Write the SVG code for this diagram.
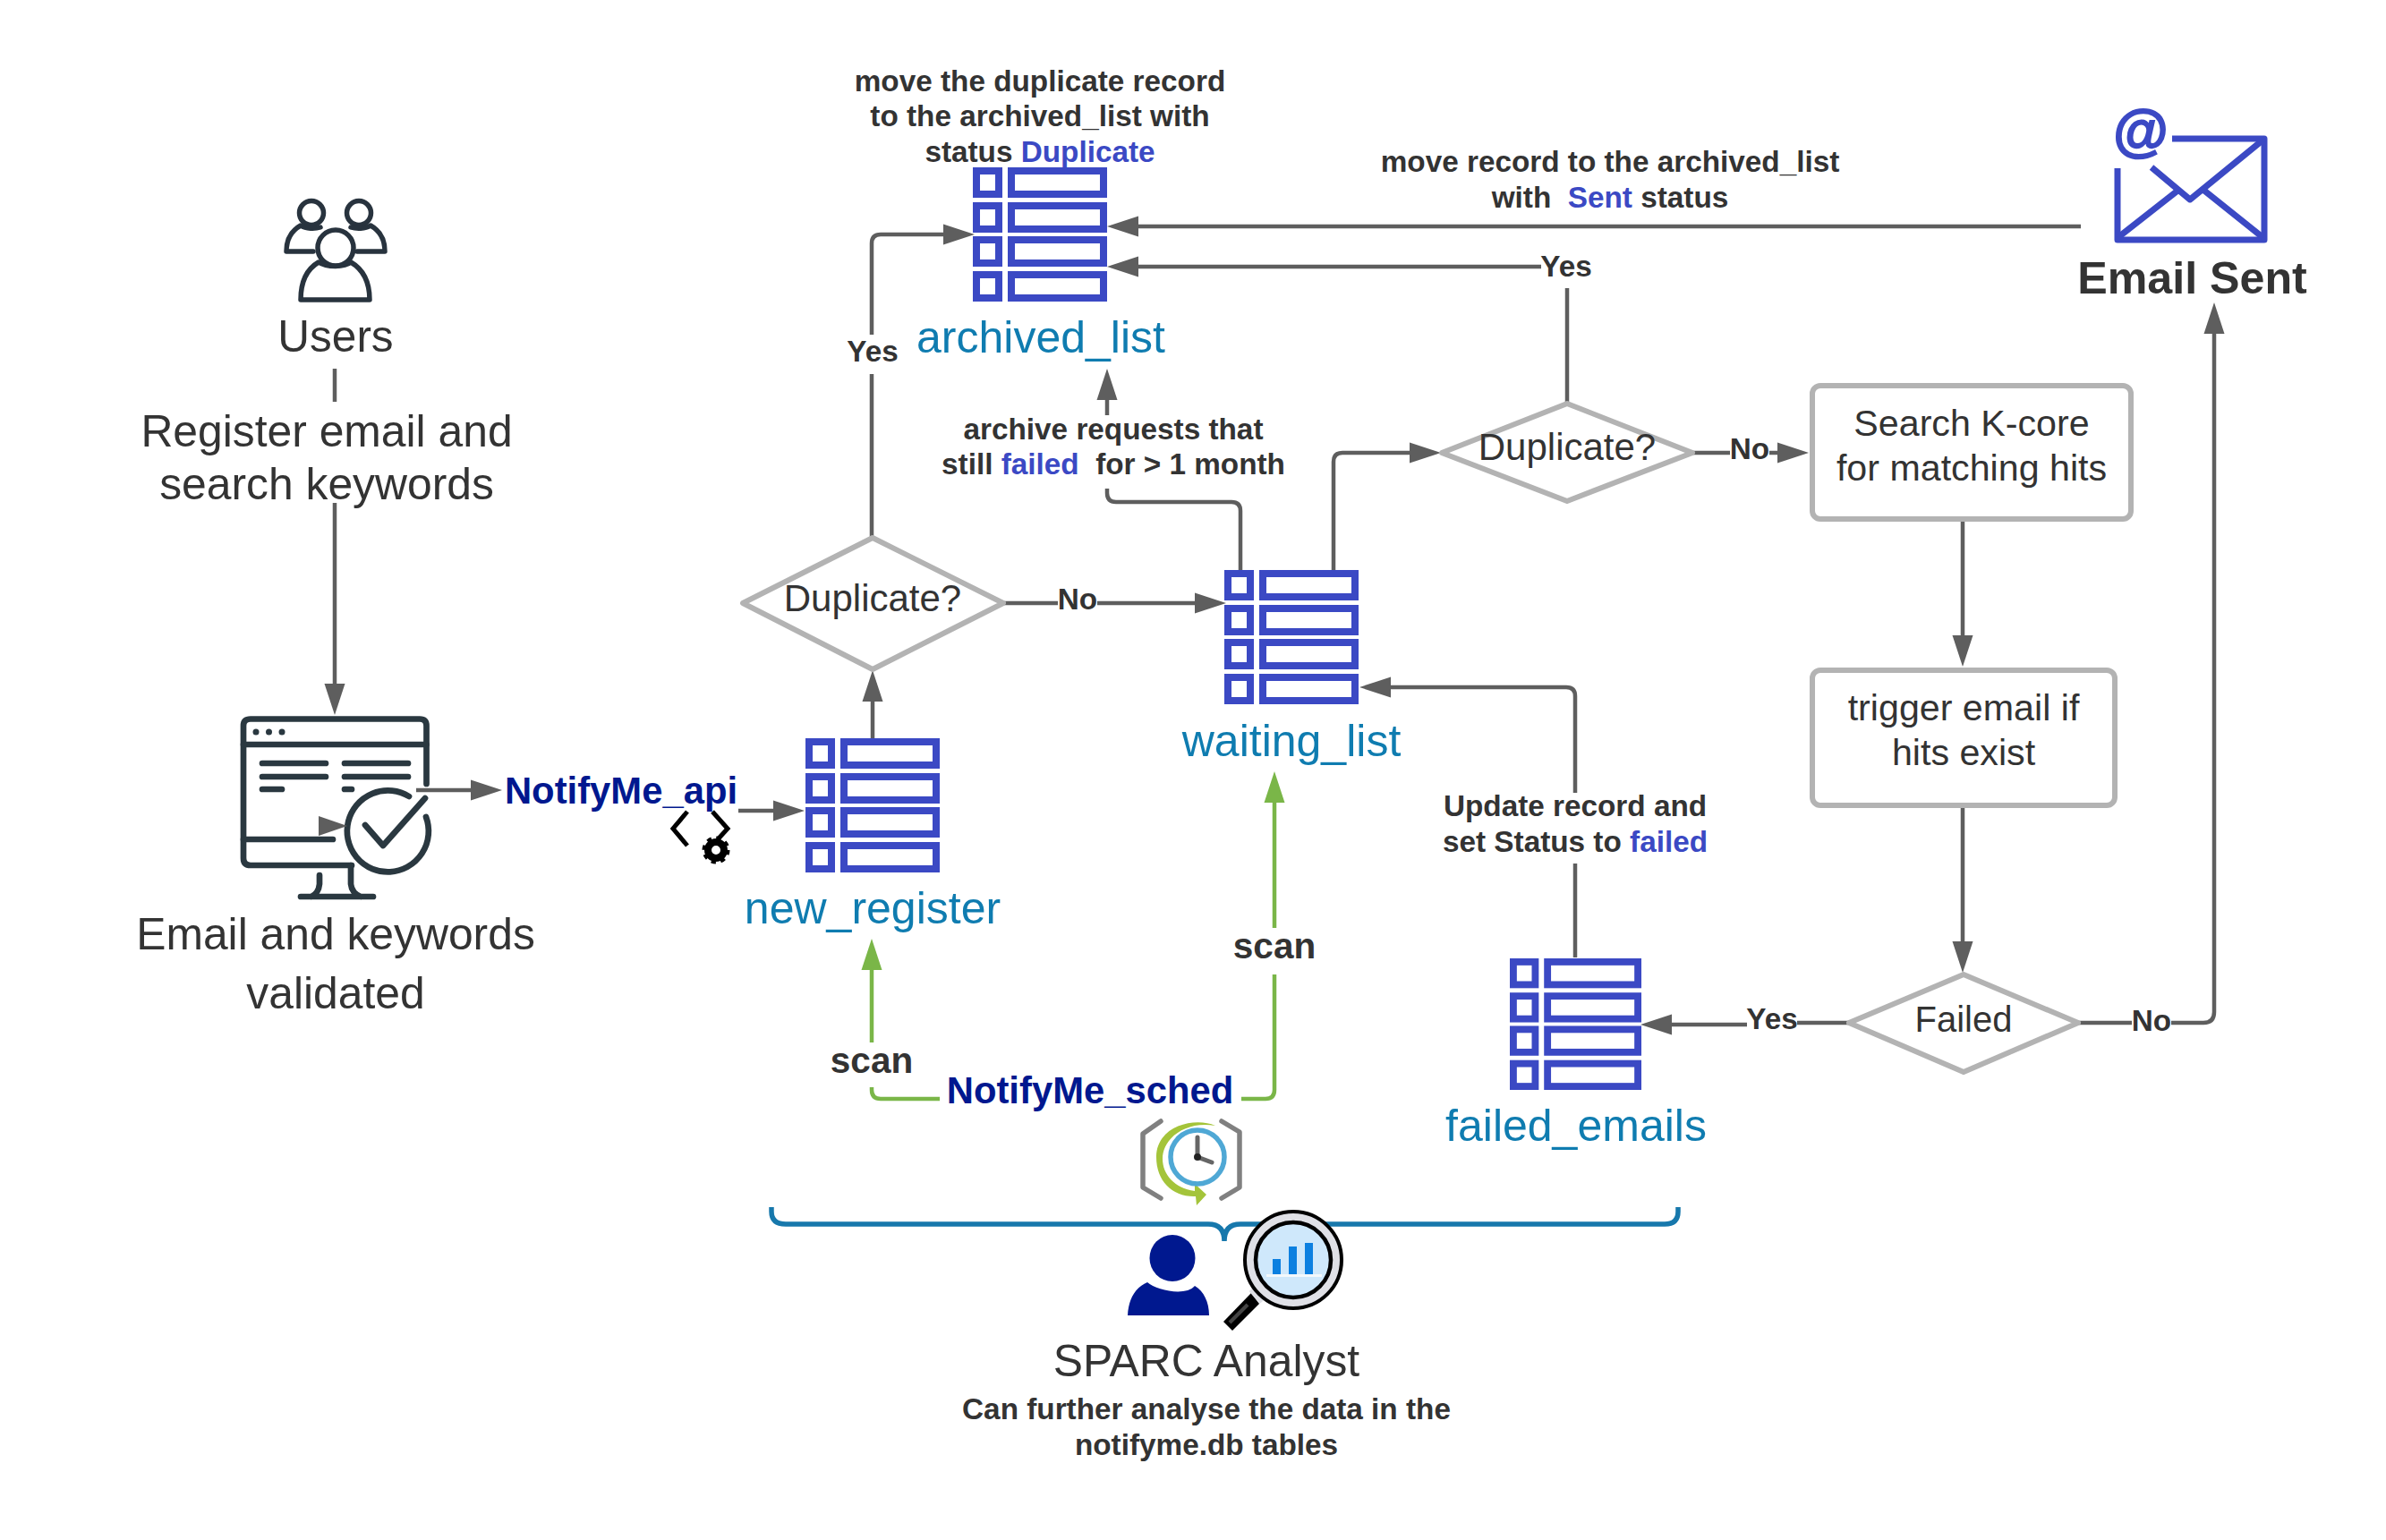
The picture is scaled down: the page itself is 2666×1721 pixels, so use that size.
<svg xmlns="http://www.w3.org/2000/svg" width="2666" height="1721" viewBox="0 0 2666 1721">
<style>
text{font-family:"Liberation Sans",Arial,sans-serif;fill:#333;white-space:pre}
.m{text-anchor:middle}
.l49{font-size:49.8px}
.t{font-size:50px;fill:#0f7cb0;text-anchor:middle}
.b{font-size:33.3px;font-weight:bold;text-anchor:middle}
.n{font-size:41.8px;font-weight:bold;fill:#00188f;text-anchor:middle}
.s{font-size:40.5px;font-weight:bold;text-anchor:middle}
.d{font-size:42px;text-anchor:middle}
.u{fill:#3b49c4}
.c{fill:none;stroke:#5e5e5e;stroke-width:4.5;marker-end:url(#ah)}
.p{fill:none;stroke:#5e5e5e;stroke-width:4.5}
.g{fill:none;stroke:#7ab648;stroke-width:4.5;marker-end:url(#ag)}
.gp{fill:none;stroke:#7ab648;stroke-width:4.5}
.box{fill:#fff;stroke:#b3b3b3;stroke-width:6;stroke-linejoin:round}
.tb{fill:none;stroke:#3b49c4;stroke-width:8}
.ic{fill:none;stroke:#28333e;stroke-width:5.5;stroke-linecap:round;stroke-linejoin:round}
.mo{fill:none;stroke:#2a3840;stroke-width:6.7;stroke-linecap:round;stroke-linejoin:round}
</style>
<defs>
<marker id="ah" markerUnits="userSpaceOnUse" markerWidth="36" markerHeight="24" refX="1" refY="12" orient="auto"><path d="M0 .5L35 12L0 23.5Z" fill="#5e5e5e"/></marker>
<marker id="ag" markerUnits="userSpaceOnUse" markerWidth="36" markerHeight="24" refX="1" refY="12" orient="auto"><path d="M0 .5L35 12L0 23.5Z" fill="#7ab648"/></marker>
<g id="tbl">
<rect class="tb" x="4" y="4" width="25" height="26"/><rect class="tb" x="43" y="4" width="103" height="26"/>
<rect class="tb" x="4" y="43" width="25" height="26"/><rect class="tb" x="43" y="43" width="103" height="26"/>
<rect class="tb" x="4" y="81" width="25" height="26"/><rect class="tb" x="43" y="81" width="103" height="26"/>
<rect class="tb" x="4" y="120" width="25" height="26"/><rect class="tb" x="43" y="120" width="103" height="26"/>
</g>
</defs>
<rect width="2666" height="1721" fill="#fff"/>
<g id="connectors">
<path class="p" d="M374 412V449"/>
<path class="c" d="M374 562V765"/>
<path class="c" d="M465 883H527"/>
<path class="c" d="M825 906H865"/>
<path class="c" d="M975 825V783"/>
<path class="p" d="M974 601V418"/>
<path class="c" d="M974 374V272Q974 262 984 262H1055"/>
<path class="p" d="M1119 674H1182"/>
<path class="c" d="M1226 674H1336"/>
<path class="c" d="M1490 637V516Q1490 506 1500 506H1576"/>
<path class="p" d="M1386 637V571Q1386 561 1376 561H1247Q1237 561 1237 551V546"/>
<path class="c" d="M1237 464V446"/>
<path class="p" d="M1751 450V322"/>
<path class="c" d="M1722 298H1271"/>
<path class="c" d="M2325 253H1271"/>
<path class="p" d="M1890 506H1933"/>
<path class="c" d="M1977 506H1987"/>
<path class="c" d="M2193 581V711"/>
<path class="c" d="M2193 901V1053"/>
<path class="p" d="M2322 1143H2382"/>
<path class="c" d="M2426 1143H2462Q2474 1143 2474 1131V372"/>
<path class="p" d="M2065 1143H2008"/>
<path class="c" d="M1952 1145H1867"/>
<path class="p" d="M1760 1070V965"/>
<path class="c" d="M1760 886V778Q1760 768 1750 768H1553"/>
<path class="g" d="M974 1165V1083"/>
<path class="gp" d="M974 1215V1218Q974 1228 984 1228H1050"/>
<path class="gp" d="M1387 1228H1414Q1424 1228 1424 1218V1089"/>
<path class="g" d="M1424 1037V896"/>
</g>
<g id="users">
<ellipse class="ic" cx="375" cy="277" rx="20" ry="20"/>
<path class="ic" d="M336 335H413C413 312 404 300 392 293C385 299 365 299 356 293C344 300 336 312 336 335Z"/>
<ellipse class="ic" cx="348" cy="238" rx="13.5" ry="13.5"/>
<ellipse class="ic" cx="401" cy="238" rx="13.5" ry="13.5"/>
<path class="ic" d="M350 281H320C320 268 325 258 336 252C342 256 352 256 358 254"/>
<path class="ic" d="M399 281H430C430 268 425 258 414 252C408 256 398 256 392 254"/>
<text class="m" style="font-size:49.5px" x="375" y="393">Users</text>
</g>
<g id="register">
<text class="m l49" x="365" y="499">Register email and</text>
<text class="m l49" x="365" y="558">search keywords</text>
</g>
<g id="validated">
<path class="mo" d="M393 967H280Q272 967 272 959V811Q272 803.500 280 803.500H469Q476.500 803.500 476.500 811V876"/>
<path class="mo" d="M272 832H476.500M272 938H372"/>
<path class="mo" d="M293 853H364M385 853H456M293 868H364M385 868H456M293 882H315M385 882H393"/>
<circle cx="286" cy="818" r="3.500" fill="#2a3840"/><circle cx="300.500" cy="818" r="3.500" fill="#2a3840"/><circle cx="315" cy="818" r="3.500" fill="#2a3840"/>
<path class="mo" d="M457 890A45.500 45.500 0 1 0 476 913"/>
<path class="mo" d="M408 922L428 945L475 892"/>
<path class="mo" d="M357 978V988Q356 998 348 1002M392 967V988Q393 998 403 1002M336 1002H417"/>
<path d="M356 912L388 923L356 934Z" fill="#5e5e5e"/>
<text class="m l49" x="375" y="1061">Email and keywords</text>
<text class="m l49" x="375" y="1127">validated</text>
</g>
<g id="notifyme-api">
<text class="n" x="694" y="898">NotifyMe_api</text>
<path d="M768 907L752 926L768 945M796 907L813 926L802 938" fill="none" stroke="#000" stroke-width="5"/>
<circle cx="800" cy="950" r="9" fill="none" stroke="#000" stroke-width="8"/>
<circle cx="800" cy="950" r="13" fill="none" stroke="#000" stroke-width="5" stroke-dasharray="5 5.200"/>
</g>
<g id="new_register"><use href="#tbl" x="900" y="825"/><text class="t" x="975" y="1032">new_register</text></g>
<g id="archived_list"><use href="#tbl" x="1087" y="187"/><text class="t" x="1163" y="394">archived_list</text></g>
<g id="waiting_list"><use href="#tbl" x="1368" y="637"/><text class="t" x="1443" y="845">waiting_list</text></g>
<g id="failed_emails"><use href="#tbl" transform="translate(1687 1071) scale(.98)"/><text class="t" x="1761" y="1275">failed_emails</text></g>
<g id="dup1"><path class="box" d="M975 601L1121 674L975 748L830 674Z"/><text class="d" x="975" y="683">Duplicate?</text></g>
<g id="dup2"><path class="box" d="M1751 451L1891 506L1751 560L1611 506Z"/><text class="d" x="1751" y="514">Duplicate?</text></g>
<g id="failed"><path class="box" d="M2194 1089L2322 1143L2194 1198L2066 1143Z"/><text class="m" style="font-size:40px" x="2194" y="1153">Failed</text></g>
<g id="search"><rect class="box" x="2025" y="431" width="356" height="149" rx="9"/><text class="m" style="font-size:41.2px" x="2203" y="487">Search K-core</text><text class="m" style="font-size:41.2px" x="2203" y="537">for matching hits</text></g>
<g id="trigger"><rect class="box" x="2025" y="749" width="338" height="151" rx="9"/><text class="m" style="font-size:41.2px" x="2194" y="805">trigger email if</text><text class="m" style="font-size:41.2px" x="2194" y="855">hits exist</text></g>
<g id="email-sent">
<path fill="none" stroke="#3b49c4" stroke-width="7" stroke-linejoin="round" d="M2427 155H2530V268H2366V188"/>
<path fill="none" stroke="#3b49c4" stroke-width="7" stroke-linejoin="round" d="M2367 265L2432 214M2404 187L2447 223L2529 156M2463 213L2528 265"/>
<text x="2391" y="168" class="m" style="font-size:63px;font-weight:bold;font-style:italic;fill:#3b49c4;stroke:#3b49c4;stroke-width:1.800">@</text>
<text class="m" style="font-size:50.2px;font-weight:bold" x="2449.500" y="328">Email Sent</text>
</g>
<g id="labels">
<text class="b" x="1162" y="102">move the duplicate record</text>
<text class="b" x="1162" y="141">to the archived_list with</text>
<text class="b" x="1162" y="181">status <tspan class="u">Duplicate</tspan></text>
<text class="b" x="1799" y="192">move record to the archived_list</text>
<text class="b" x="1799" y="232">with  <tspan class="u">Sent</tspan> status</text>
<text class="b" x="1750" y="309">Yes</text>
<text class="b" x="975" y="404">Yes</text>
<text class="b" x="1204" y="681">No</text>
<text class="b" x="1955" y="513">No</text>
<text class="b" x="2404" y="1152">No</text>
<text class="b" x="1980" y="1150">Yes</text>
<text class="b" x="1244" y="491">archive requests that</text>
<text class="b" x="1244" y="530">still <tspan class="u">failed</tspan>  for &gt; 1 month</text>
<text class="b" x="1760" y="912">Update record and</text>
<text class="b" x="1760" y="952">set Status to <tspan class="u">failed</tspan></text>
<text class="s" x="974" y="1199">scan</text>
<text class="s" x="1424" y="1071">scan</text>
</g>
<g id="notifyme-sched">
<text class="n" x="1218" y="1233">NotifyMe_sched</text>
<path d="M1297 1253L1277 1267V1327L1297 1339M1365 1253L1385 1265V1327L1365 1339" fill="none" stroke="#808080" stroke-width="5.500" stroke-linejoin="round" stroke-linecap="round"/>
<path fill="#a4c43a" d="M1358 1258C1335 1248 1292 1258 1292 1293C1292 1320 1310 1338 1336 1337L1337 1347L1348 1335L1335 1323L1335 1331C1312 1328 1299 1312 1299 1295C1299 1272 1325 1252 1358 1258Z"/>
<circle cx="1338" cy="1293" r="30" fill="#fff" stroke="#4fa8d5" stroke-width="5.500"/>
<path d="M1338 1271V1293L1354 1299" fill="none" stroke="#666" stroke-width="5" stroke-linecap="round"/>
<circle cx="1338" cy="1293" r="4" fill="#222"/>
</g>
<g id="brace"><path fill="none" stroke="#1778ac" stroke-width="5.500" d="M862 1349V1354Q862 1368 878 1368H1350Q1368 1368 1368 1387Q1368 1368 1386 1368H1860Q1875 1368 1875 1354V1349"/></g>
<g id="analyst">
<ellipse cx="1310" cy="1406" rx="25.500" ry="26" fill="#00188f"/>
<path fill="#00188f" d="M1260 1470C1261 1452 1268 1439 1282 1433C1292 1442 1325 1449 1335 1437C1345 1443 1351 1455 1351 1470Z"/>
<path fill="#000" d="M1398 1445L1407 1457L1377 1487L1367 1477Z"/>
<path d="M1374 1478L1394 1458" stroke="#444" stroke-width="4"/>
<path d="M1399 1440L1411 1454" stroke="#dfe0e6" stroke-width="9"/>
<circle cx="1445" cy="1408" r="54" fill="#dfe0e6" stroke="#000" stroke-width="4"/>
<circle cx="1445" cy="1408" r="42" fill="#cfe8fb" stroke="#000" stroke-width="4.500"/>
<rect x="1422" y="1407" width="9" height="18" fill="#0c80e0"/><rect x="1440" y="1393" width="9" height="32" fill="#0c80e0"/><rect x="1458" y="1389" width="9" height="36" fill="#0c80e0"/>
<rect x="1415" y="1424" width="62" height="3" fill="#f4f8fb"/>
<text class="m l49" x="1348" y="1538">SPARC Analyst</text>
<text class="b" x="1348" y="1586">Can further analyse the data in the</text>
<text class="b" x="1348" y="1626">notifyme.db tables</text>
</g>
</svg>
